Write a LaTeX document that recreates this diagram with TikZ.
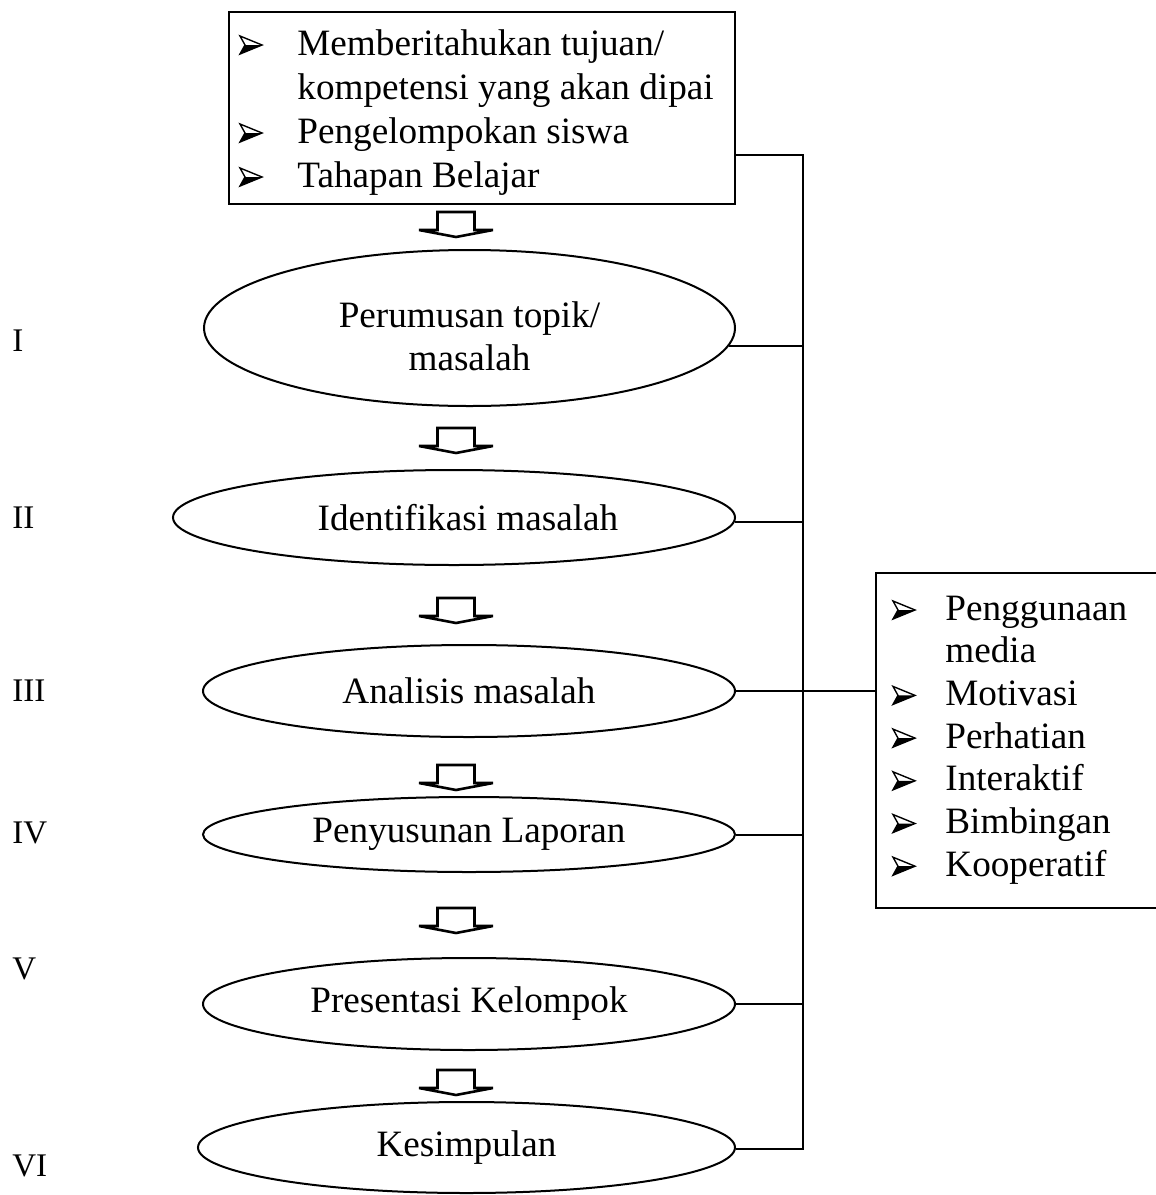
\documentclass[tikz,border=0pt]{standalone}
\usepackage{fontspec}
\setmainfont{Liberation Serif}
\usetikzlibrary{shapes.geometric}
\tikzset{
  txt/.style={font=\fontsize{18.6}{22}\selectfont, inner sep=0pt, anchor=base west},
  numtxt/.style={font=\fontsize{16.5}{20}\selectfont, inner sep=0pt, anchor=base west},
  oval/.style={draw, line width=1pt, ellipse, inner sep=0pt, align=center,
    font=\fontsize{18.6}{21.5}\selectfont},
  boxframe/.style={draw, line width=1pt, rectangle, inner sep=0pt},
  conn/.style={line width=1pt},
  bul/.pic={
    \fill (5,0) -- (22,0) -- (0,9) -- cycle;
    \draw[line width=0.7pt, line join=miter] (0,-9) -- (22,0) -- (0,9) -- (5,0) -- cycle;
  },
  hollowarrow/.pic={
    \draw[line width=1.3pt, line join=miter]
      (-18.5,0) -- (18.5,0) -- (18.5,18) -- (37,18) -- (0,25) -- (-37,18) -- (-18.5,18) -- cycle;
  }
}
\begin{document}
\begin{tikzpicture}[x=0.5pt,y=-0.5pt]
\useasboundingbox (0,0) rectangle (1156,1195);

% top box
\node (top) [boxframe, minimum width=253pt, minimum height=96pt] at (482,108) {};
\node (t1) [txt] at (297,55) {Memberitahukan tujuan/};
\node (t2) [txt] at (297,99) {kompetensi yang akan dipai};
\node (t3) [txt] at (297,143) {Pengelompokan siswa};
\node (t4) [txt] at (297,187) {Tahapan Belajar};
\pic at (240,45) {bul};
\pic at (240,133) {bul};
\pic at (240,177) {bul};

% ellipses
\node (E1) [oval, minimum width=265.5pt, minimum height=78pt] at (469.5,328) {\rule{0pt}{21.5pt}Perumusan topik/\\masalah};
\node (E2) [oval, minimum width=281pt, minimum height=47.5pt] at (454,517.5) {\hspace*{14pt}Identifikasi masalah};
\node (E3) [oval, minimum width=266pt, minimum height=46pt] at (469,691) {Analisis masalah};
\node (E4) [oval, minimum width=266pt, minimum height=37.5pt] at (469,834.5) {Penyusunan Laporan};
\node (E5) [oval, minimum width=266pt, minimum height=46pt] at (469,1004) {Presentasi Kelompok};
\node (E6) [oval, minimum width=268.5pt, minimum height=45.5pt] at (466.5,1147.5) {Kesimpulan};

% hollow arrows
\pic at (456,212) {hollowarrow};
\pic at (456,428) {hollowarrow};
\pic at (456,598) {hollowarrow};
\pic at (456,765) {hollowarrow};
\pic at (456,908) {hollowarrow};
\pic at (456,1070) {hollowarrow};

% roman numerals
\node (n1) [numtxt] at (12,351) {I};
\node (n2) [numtxt] at (12,528) {II};
\node (n3) [numtxt] at (12,701) {III};
\node (n4) [numtxt] at (12,843) {IV};
\node (n5) [numtxt] at (12,979) {V};
\node (n6) [numtxt] at (12,1176) {VI};

% right box
\node (rb) [inner sep=0pt, minimum width=140pt, minimum height=167.5pt] at (1016,740.5) {};
\draw[conn] (1160,573) -- (876,573) -- (876,908) -- (1160,908);
\foreach \i/\t in {0/Penggunaan,1/media,2/Motivasi,3/Perhatian,4/Interaktif,5/Bimbingan,6/Kooperatif}{
  \node (r\i) [txt] at (945,{620+42.7*\i}) {\t};
}
\foreach \i in {0,2,3,4,5,6}{
  \pic at (893,{610+42.7*\i}) {bul};
}

% connectors
\coordinate (sp) at (803,155);
\coordinate (spend) at (803,1149);
\draw[conn] (sp -| top.east) -- (sp) -- (spend) -- (spend -| E6.east);
\draw[conn] (E1.-4) -- (E1.-4 -| sp);
\draw[conn] (E2.-1) -- (E2.-1 -| sp);
\draw[conn] (E3.east) -- (E3.east -| rb.west);
\draw[conn] (E4.east) -- (E4.east -| sp);
\draw[conn] (E5.east) -- (E5.east -| sp);
\end{tikzpicture}
\end{document}
